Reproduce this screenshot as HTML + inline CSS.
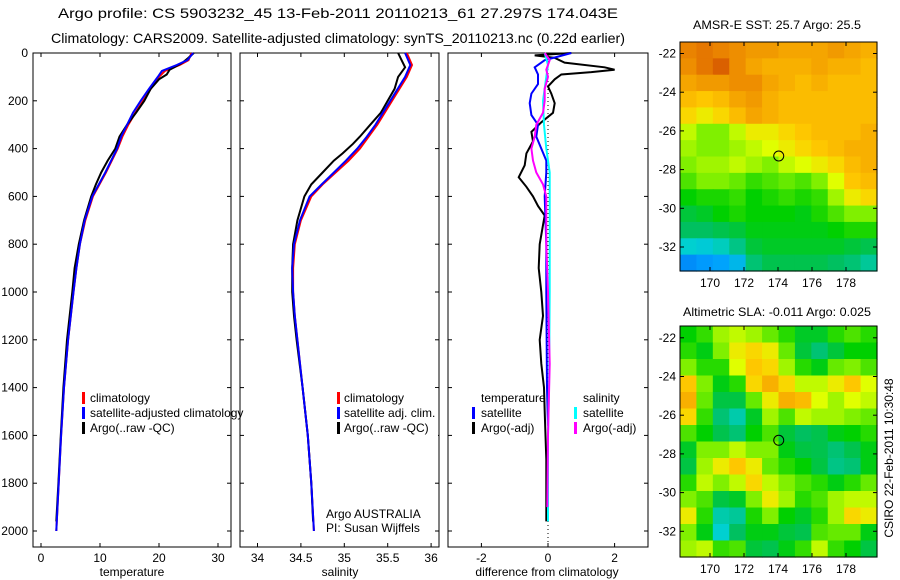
<!DOCTYPE html>
<html><head><meta charset="utf-8">
<style>
html,body{margin:0;padding:0;background:#fff;}
svg{display:block;font-family:"Liberation Sans",Arial,sans-serif;}
text{font-size:12px;fill:#000;}
</style></head>
<body>
<svg id="chart" width="900" height="580" viewBox="0 0 900 580" xmlns="http://www.w3.org/2000/svg">
<text x="338" y="18" text-anchor="middle" style="font-size:14px" textLength="560" lengthAdjust="spacingAndGlyphs">Argo profile: CS 5903232_45 13-Feb-2011 20110213_61 27.297S 174.043E</text>
<text x="338" y="43" text-anchor="middle" style="font-size:14px" textLength="574" lengthAdjust="spacingAndGlyphs">Climatology: CARS2009. Satellite-adjusted climatology: synTS_20110213.nc (0.22d earlier)</text>
<text x="777" y="29" text-anchor="middle" textLength="168" lengthAdjust="spacingAndGlyphs">AMSR-E SST: 25.7 Argo: 25.5</text>
<text x="777" y="316" text-anchor="middle" textLength="188" lengthAdjust="spacingAndGlyphs">Altimetric SLA: -0.011 Argo: 0.025</text>
<text transform="translate(893,458) rotate(-90)" text-anchor="middle">CSIRO 22-Feb-2011 10:30:48</text>
<g id="g"></g>
</svg>
<script>
// ---------- data ----------
const depthTicks = [0,200,400,600,800,1000,1200,1400,1600,1800,2000];
const tempTicks = [0,10,20,30];
const salTicks = [34,34.5,35,35.5,36];
const salTickLabels = ["34","34.5","35","35.5","36"];
const diffTicks = [-2,0,2];
const lonTicks = [170,172,174,176,178];
const latTicks = [-22,-24,-26,-28,-30,-32];

const tempClim = [[0,25.5],[30,25],[50,23.5],[75,21],[100,20],[150,18.6],[200,17.3],[250,16],[300,14.8],[350,13.8],[400,13],[500,11],[600,8.8],[700,7.5],[800,6.6],[900,6],[1000,5.5],[1200,4.6],[1400,3.9],[1600,3.4],[1800,3],[2000,2.6]];
const tempSat = [[0,25.8],[30,24.8],[50,23],[75,20.5],[100,19.8],[150,18.3],[200,16.9],[250,15.6],[300,14.6],[350,13.6],[400,12.9],[500,10.9],[600,8.7],[700,7.4],[800,6.6],[900,6],[1000,5.5],[1200,4.6],[1400,3.9],[1600,3.4],[1800,3],[2000,2.6]];
const tempArgo = [[0,25.9],[20,25],[40,24],[60,22.6],[70,21.8],[90,21.3],[110,20],[150,18.6],[200,17.5],[250,16.1],[300,14.6],[350,13.3],[400,12.6],[450,11.3],[500,10.2],[550,9.3],[600,8.5],[700,7.3],[800,6.4],[900,5.7],[1000,5.3],[1200,4.4],[1400,3.8],[1600,3.35],[1800,2.95],[1960,2.6]];

const salClim = [[0,35.72],[50,35.78],[100,35.72],[200,35.55],[300,35.38],[350,35.28],[400,35.18],[450,35.05],[500,34.9],[550,34.75],[600,34.62],[700,34.5],[800,34.43],[900,34.41],[1000,34.41],[1100,34.43],[1200,34.46],[1400,34.52],[1600,34.58],[1800,34.62],[2000,34.65]];
const salSat = [[0,35.7],[50,35.76],[100,35.7],[200,35.53],[300,35.36],[350,35.26],[400,35.15],[450,35.02],[500,34.88],[550,34.74],[600,34.6],[700,34.49],[800,34.42],[900,34.4],[1000,34.41],[1100,34.43],[1200,34.46],[1400,34.52],[1600,34.58],[1800,34.62],[2000,34.65]];
const salArgo = [[0,35.62],[30,35.66],[60,35.7],[100,35.62],[150,35.58],[200,35.5],[250,35.42],[300,35.3],[350,35.18],[380,35.1],[420,34.98],[450,34.88],[500,34.75],[550,34.62],[600,34.54],[700,34.46],[800,34.41],[900,34.4],[1000,34.4],[1100,34.42],[1200,34.45],[1400,34.52],[1600,34.58],[1800,34.62],[1960,34.64]];

const diffTempSat = [[0,0.7],[15,0.3],[30,-0.1],[60,-0.4],[90,-0.3],[130,-0.3],[170,-0.5],[210,-0.55],[260,-0.5],[300,-0.3],[350,-0.35],[400,-0.2],[450,-0.05],[500,-0.05],[600,-0.1],[800,-0.05],[1000,-0.05],[1400,-0.03],[1560,0]];
const diffTempArgo = [[0,0.7],[10,-0.4],[20,0.2],[40,0.5],[60,1.7],[70,2.0],[80,1.3],[90,0.4],[110,0.2],[140,0.0],[170,0.1],[210,0.2],[250,0.15],[290,-0.2],[330,-0.5],[370,-0.45],[420,-0.65],[470,-0.7],[520,-0.88],[560,-0.65],[600,-0.45],[640,-0.3],[680,-0.1],[720,-0.15],[800,-0.25],[900,-0.28],[1000,-0.2],[1100,-0.15],[1200,-0.25],[1300,-0.2],[1400,-0.12],[1500,-0.1],[1700,-0.05],[1960,-0.05]];
const diffSalSat = [[0,-0.1],[50,0.0],[100,-0.05],[200,-0.15],[300,-0.12],[400,-0.05],[500,0.05],[700,0.05],[1000,0.05],[1400,0.03],[1600,0.0],[1960,0.0]];
const diffSalArgo = [[0,-0.1],[30,0.05],[70,-0.05],[100,0.0],[150,-0.1],[200,-0.1],[250,-0.15],[300,-0.35],[350,-0.4],[400,-0.5],[450,-0.45],[500,-0.35],[550,-0.15],[600,-0.05],[800,-0.05],[1000,0.0],[1300,0.05],[1600,0.0],[1900,-0.02]];

const sstGrid = [
[.86,.88,.86,.84,.82,.82,.80,.80,.80,.82,.80,.78],
[.84,.88,.92,.84,.80,.78,.78,.78,.80,.78,.78,.76],
[.80,.82,.82,.84,.84,.80,.78,.76,.78,.76,.76,.76],
[.76,.74,.76,.80,.82,.78,.76,.76,.76,.76,.76,.76],
[.72,.70,.72,.76,.80,.78,.76,.76,.76,.76,.76,.76],
[.66,.62,.62,.66,.70,.70,.72,.74,.76,.76,.76,.78],
[.64,.62,.62,.64,.66,.68,.70,.72,.74,.76,.78,.78],
[.62,.64,.64,.66,.64,.62,.66,.68,.70,.72,.76,.78],
[.58,.62,.62,.60,.56,.58,.60,.58,.62,.68,.74,.76],
[.52,.54,.54,.56,.52,.54,.56,.54,.56,.64,.70,.72],
[.46,.48,.52,.54,.52,.52,.52,.50,.54,.58,.62,.62],
[.42,.42,.44,.46,.50,.50,.50,.50,.50,.52,.54,.54],
[.30,.28,.32,.38,.46,.48,.48,.48,.48,.48,.46,.44],
[.12,.14,.16,.22,.40,.44,.44,.44,.44,.42,.40,.36]];
const slaGrid = [
[.52,.56,.64,.66,.64,.60,.55,.48,.48,.55,.58,.55],
[.55,.50,.62,.70,.72,.70,.60,.46,.40,.46,.52,.52],
[.62,.55,.55,.68,.74,.72,.64,.55,.50,.60,.62,.58],
[.74,.62,.50,.55,.72,.78,.72,.66,.66,.70,.74,.68],
[.78,.60,.45,.45,.60,.70,.78,.76,.68,.64,.68,.66],
[.72,.56,.40,.34,.48,.64,.58,.66,.64,.64,.62,.60],
[.58,.52,.44,.40,.52,.58,.46,.42,.44,.50,.52,.55],
[.48,.62,.62,.66,.62,.62,.50,.45,.44,.40,.44,.50],
[.45,.64,.70,.74,.70,.60,.55,.52,.45,.38,.40,.50],
[.55,.66,.62,.66,.72,.66,.62,.58,.55,.50,.55,.60],
[.62,.58,.45,.48,.62,.70,.64,.55,.58,.64,.66,.66],
[.70,.55,.34,.36,.54,.62,.52,.48,.55,.64,.72,.70],
[.62,.50,.30,.42,.50,.50,.46,.44,.58,.60,.60,.50],
[.64,.66,.56,.58,.46,.44,.50,.56,.66,.56,.52,.45]];
const argoLon = [174.043];
const argoLat = [-27.297];

// ---------- drawing ----------
const NS="http://www.w3.org/2000/svg";
const G=document.getElementById('g');
function el(t,a,p){const e=document.createElementNS(NS,t);for(const k in a)e.setAttribute(k,a[k]);(p||G).appendChild(e);return e;}
const yD=d=>53+d*0.239;
const xT=v=>41+5.9*v;
const xS=v=>257.5+86.8*(v-34);
const xDf=v=>548+33.3*v;

function frame(x0,x1,y0,y1,name){
  const r=el('rect',{x:x0,y:y0,width:x1-x0,height:y1-y0,fill:'none',stroke:'#000','stroke-width':1});
  
  
}
function profile(arr,xf,color,name,w){
  const pts=arr.map(p=>xf(p[1]).toFixed(1)+','+yD(p[0]).toFixed(1)).join(' ');
  const l=el('polyline',{points:pts,fill:'none',stroke:color,'stroke-width':w||2,'stroke-linejoin':'miter'});
  
  
}
function depthAxis(x0,x1,labels){
  depthTicks.forEach(d=>{
    const y=yD(d);
    el('line',{x1:x0,y1:y,x2:x0+4,y2:y,stroke:'#000'});
    el('line',{x1:x1,y1:y,x2:x1-4,y2:y,stroke:'#000'});
    if(labels){const t=el('text',{x:x0-5,y:y+4,'text-anchor':'end'});t.textContent=d;
      
      }
  });
}
function xAxis(ticks,labels,xf,y0,y1){
  ticks.forEach((v,i)=>{
    const x=xf(v);
    el('line',{x1:x,y1:y1,x2:x,y2:y1-4,stroke:'#000'});
    el('line',{x1:x,y1:y0,x2:x,y2:y0+4,stroke:'#000'});
    const t=el('text',{x:x,y:y1+15,'text-anchor':'middle'});t.textContent=labels[i];
    
    
  });
}
function label(x,y,s,name,anchor){
  const t=el('text',{x:x,y:y,'text-anchor':anchor||'start'});t.textContent=s;
  
  
}
function legendMark(x,y,color,name){
  const r=el('rect',{x:x,y:y-10,width:3,height:12,fill:color});
  
  
}

// Panel 1 temperature
frame(33,231,53,547,'temperature-panel');
depthAxis(33,231,true);
xAxis(tempTicks,tempTicks.map(String),xT,53,547);
profile(tempClim,xT,'#ff0000','temp-climatology-line');
profile(tempArgo,xT,'#000000','temp-argo-line');
profile(tempSat,xT,'#0000ff','temp-satellite-line');
label(132,576,'temperature','temperature-axis-title','middle');
legendMark(82,402,'#ff0000','legend-climatology-marker'); label(90,402,'climatology','legend-climatology');
legendMark(82,417,'#0000ff','legend-satellite-marker'); label(90,417,'satellite-adjusted climatology','legend-satellite');
legendMark(82,432,'#000000','legend-argo-marker'); label(90,432,'Argo(..raw -QC)','legend-argo');

// Panel 2 salinity
frame(240,439,53,547,'salinity-panel');
depthAxis(240,439,false);
xAxis(salTicks,salTickLabels,xS,53,547);
profile(salClim,xS,'#ff0000','sal-climatology-line');
profile(salArgo,xS,'#000000','sal-argo-line');
profile(salSat,xS,'#0000ff','sal-satellite-line');
label(340,576,'salinity','salinity-axis-title','middle');
el('rect',{x:336,y:388,width:102,height:50,fill:'#fff'});
legendMark(337,402,'#ff0000','legend2-climatology-marker'); label(344,402,'climatology','legend2-climatology');
legendMark(337,417,'#0000ff','legend2-satellite-marker'); label(344,417,'satellite adj. clim.','legend2-satellite');
legendMark(337,432,'#000000','legend2-argo-marker'); label(344,432,'Argo(..raw -QC)','legend2-argo');
label(326,518,'Argo AUSTRALIA','argo-australia-label');
label(326,532,'PI: Susan Wijffels','pi-label');

// Panel 3 differences
frame(448,648,53,547,'difference-panel');
depthAxis(448,648,false);
xAxis(diffTicks,diffTicks.map(String),xDf,53,547);
el('line',{x1:xDf(0),y1:53,x2:xDf(0),y2:547,stroke:'#000','stroke-dasharray':'1,3'});
profile(diffTempArgo,xDf,'#000000','diff-temp-argo-line');
profile(diffTempSat,xDf,'#0000ff','diff-temp-satellite-line');
profile(diffSalSat,xDf,'#00ffff','diff-sal-satellite-line');
profile(diffSalArgo,xDf,'#ff00ff','diff-sal-argo-line');
label(547,576,'difference from climatology','difference-axis-title','middle');
label(481,402,'temperature','legend3-temperature-heading');
legendMark(472,417,'#0000ff','legend3-temp-sat-marker'); label(481,417,'satellite','legend3-temp-sat');
legendMark(472,432,'#000000','legend3-temp-argo-marker'); label(481,432,'Argo(-adj)','legend3-temp-argo');
label(583,402,'salinity','legend3-salinity-heading');
legendMark(574,417,'#00ffff','legend3-sal-sat-marker'); label(583,417,'satellite','legend3-sal-sat');
legendMark(574,432,'#ff00ff','legend3-sal-argo-marker'); label(583,432,'Argo(-adj)','legend3-sal-argo');

// Maps
const stops=[[0,[0,64,224]],[0.15,[0,160,255]],[0.3,[0,208,208]],[0.42,[0,192,96]],[0.52,[0,208,0]],[0.62,[128,240,0]],[0.68,[224,255,0]],[0.73,[255,205,0]],[0.8,[245,165,0]],[0.87,[232,125,0]],[0.93,[215,90,0]],[1,[176,32,0]]];
function cmap(v){
  for(let i=1;i<stops.length;i++){if(v<=stops[i][0]){const a=stops[i-1],b=stops[i],f=(v-a[0])/(b[0]-a[0]);
    return 'rgb('+a[1].map((c,k)=>Math.round(c+(b[1][k]-c)*f)).join(',')+')';}}
  return 'rgb(176,32,0)';
}
function mapPanel(grid,x0,x1,y0,y1,lat22y,name){
  const lonX=l=>710+(l-170)*17;
  const latY=l=>lat22y+(-22-l)*19.35;
  const rows=grid.length,cols=grid[0].length,cw=(x1-x0)/cols,ch=(y1-y0)/rows;
  grid.forEach((row,r)=>row.forEach((v,c)=>{
    const cell=el('rect',{x:(x0+c*cw).toFixed(2),y:(y0+r*ch).toFixed(2),width:(cw+0.6).toFixed(2),height:(ch+0.6).toFixed(2),fill:cmap(v)});
    
    
  }));
  frame(x0,x1,y0,y1,name+'-frame');
  lonTicks.forEach(l=>{const x=lonX(l);
    el('line',{x1:x,y1:y1,x2:x,y2:y1-4,stroke:'#000'});el('line',{x1:x,y1:y0,x2:x,y2:y0+4,stroke:'#000'});
    label(x,y1+16,String(l),name+'-lon-label','middle');});
  latTicks.forEach(l=>{const y=latY(l);
    el('line',{x1:x0,y1:y,x2:x0+4,y2:y,stroke:'#000'});el('line',{x1:x1,y1:y,x2:x1-4,y2:y,stroke:'#000'});
    label(x0-4,y+4,String(l),name+'-lat-label','end');});
  const c=el('circle',{cx:lonX(argoLon[0]),cy:latY(argoLat[0]),r:5,fill:'none',stroke:'#000'});
  
  
}
mapPanel(sstGrid,680,877,42,271,53.5,'sst-map');
mapPanel(slaGrid,680,877,326,557,337.8,'sla-map');
</script>
</body></html>
